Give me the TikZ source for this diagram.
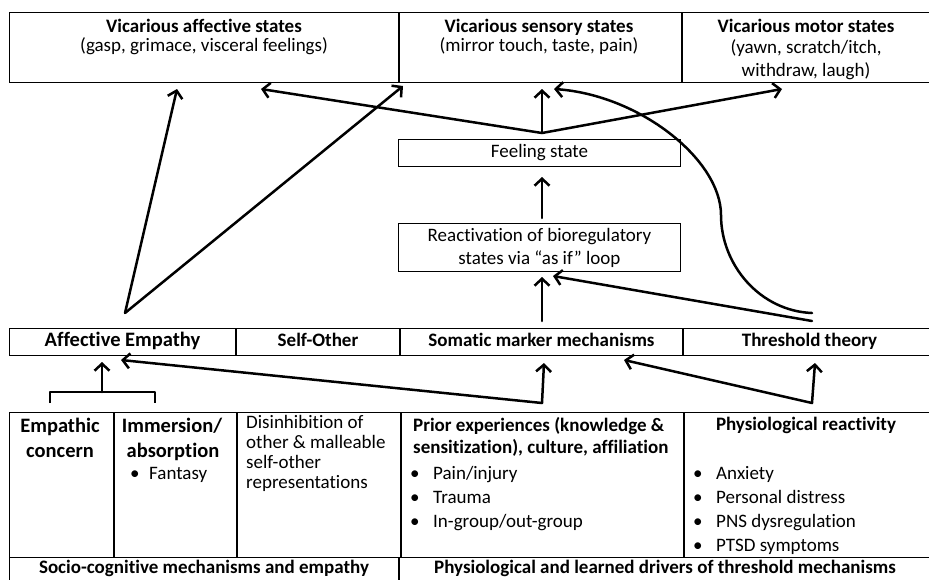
\documentclass[tikz,border=0pt]{standalone}
\usepackage{fontspec}
\setmainfont[Ligatures=NoCommon]{Carlito}
\usepackage{tikz}
\usetikzlibrary{arrows.meta, positioning}
\newcommand{\bulitem}[1][23pt]{\makebox[#1][l]{•}}
\tikzset{
  cell/.style={draw, line width=1pt, inner sep=0pt, anchor=north west},
  head/.style={font=\bfseries\fontsize{19}{22}\selectfont, inner sep=0pt, align=center},
  bighead/.style={font=\bfseries\fontsize{20.5}{22}\selectfont, inner sep=0pt, align=center},
  body/.style={font=\fontsize{19}{22}\selectfont, inner sep=0pt, align=center},
  oneline/.style={text height=13pt, text depth=4pt},
  flow/.style={->, line width=2.5pt, line cap=round},
  twoway/.style={<->, line width=2.5pt, line cap=round, line join=round},
  plain/.style={line width=2.5pt, line join=round},
}

\begin{document}
\begin{tikzpicture}[x=1pt, y=-1pt, >={Straight Barb[length=7pt,width=15pt]}]
\useasboundingbox (0,0) rectangle (929,579);

% vicarious states
\node[cell, minimum width=389pt, minimum height=70pt] (affbox) at (9,12) {};
\node[cell, minimum width=282pt, minimum height=70pt] (sensbox) at (affbox.north east) {};
\node[cell, minimum width=252pt, minimum height=70pt] (motbox) at (sensbox.north east) {};
\node[head, anchor=base] (affhead) at (204,32) {Vicarious affective states};
\node[body, anchor=base] (affsub) at (204,51) {(gasp, grimace, visceral feelings)};
\node[head, anchor=base] (senshead) at (539,32) {Vicarious sensory states};
\node[body, anchor=base] (senssub) at (539,51) {(mirror touch, taste, pain)};
\node[head, anchor=base] (mothead) at (806,32) {Vicarious motor states};
\node[body, anchor=base] (motsub) at (806,53) {(yawn, scratch/itch,};
\node[body, anchor=base] (motsub2) at (806,76) {withdraw, laugh)};

% feeling and as-if loop
\node[cell, body, oneline, minimum width=282pt, minimum height=27pt] (feel) at (398,139) {Feeling state};
\node[cell, body, minimum width=282pt, minimum height=48pt] (react) at (398,223) {Reactivation of bioregulatory\\[1pt]states via “as if” loop};

% mechanisms
\node[cell, bighead, oneline, minimum width=226pt, minimum height=27pt] (empathy) at (9,328) {Affective Empathy};
\node[cell, head, oneline, minimum width=163pt, minimum height=27pt] (selfother) at (empathy.north east) {Self-Other};
\node[cell, head, oneline, minimum width=282pt, minimum height=27pt] (somatic) at (selfother.north east) {Somatic marker mechanisms};
\node[cell, head, oneline, minimum width=252pt, minimum height=27pt] (threshold) at (somatic.north east) {Threshold theory};

% drivers table
\node[cell, minimum width=104pt, minimum height=145pt] (concernbox) at (9,412) {};
\node[cell, minimum width=122pt, minimum height=145pt] (immersbox) at (concernbox.north east) {};
\node[cell, minimum width=163pt, minimum height=145pt] (disinhbox) at (immersbox.north east) {};
\node[cell, minimum width=282pt, minimum height=145pt] (priorbox) at (disinhbox.north east) {};
\node[cell, minimum width=252pt, minimum height=145pt] (physbox) at (priorbox.north east) {};
\node[cell, minimum width=389pt, minimum height=28pt] (sociofoot) at (9,557) {};
\node[cell, minimum width=534pt, minimum height=28pt] (physfoot) at (sociofoot.north east) {};
\node[head, anchor=base] (sociotxt) at (204,573) {Socio-cognitive mechanisms and empathy};
\node[head, anchor=base] (phystxt) at (665,573) {Physiological and learned drivers of threshold mechanisms};

\node[bighead, anchor=base] (empathic) at (60,432) {Empathic};
\node[bighead, anchor=base] (concern) at (60,457) {concern};
\node[bighead, anchor=base] (immersion) at (172,432) {Immersion/};
\node[bighead, anchor=base] (absorption) at (173,457) {absorption};
\node[body, anchor=base west] (fantasy) at (130,479) {\bulitem[19pt]Fantasy};
\foreach \txt [count=\i] in {Disinhibition of, other \& malleable, self-other, representations}
  \node[body, anchor=base west] (disinh\i) at (246,408+20*\i) {\txt};
\node[head, anchor=base west] (prior1) at (413,431) {Prior experiences (knowledge \&};
\node[head, anchor=base west] (prior2) at (413,453) {sensitization), culture, affiliation};
\foreach \txt [count=\i] in {Pain/injury, Trauma, In-group/out-group}
  \node[body, anchor=base west] (priorit\i) at (410,455+24*\i) {\bulitem\txt};
\node[head, anchor=base] (physhead) at (806,430) {Physiological reactivity};
\foreach \txt [count=\i] in {Anxiety, Personal distress, PNS dysregulation, PTSD symptoms}
  \node[body, anchor=base west] (physit\i) at (693,455+24*\i) {\bulitem\txt};

% arrows
\coordinate (fork) at (125,313);
\coordinate (hub) at ([shift={(144,-6)}]feel.north west);
\coordinate (thrTop) at (812,313);
\coordinate (thrMid) at (812,321);
\coordinate (somLow) at (542,403);
\coordinate (thrLow) at (812,403);
\coordinate (brL) at (50,403);
\coordinate (brM) at (102,392);
\coordinate (brR) at (155,403);

\draw[flow] (fork) -- ([shift={(168,6)}]affbox.south west);
\draw[flow] (fork) -- ([shift={(4,3)}]sensbox.south west);
\draw[flow] (hub) -- ([shift={(-138,6)}]affbox.south east);
\draw[flow, shorten >=6pt] (hub) -- (hub |- sensbox.south);
\draw[flow] (hub) -- ([shift={(100,6)}]sensbox.south east);
\draw[flow, shorten <=5pt, shorten >=10pt] (react.north -| hub) -- (feel.south -| hub);
\draw[flow, shorten <=7pt, shorten >=5pt] (somatic.north -| hub) -- (react.south -| hub);
\draw[flow] (thrMid) -- ([shift={(155,4)}]react.south west);
\draw[flow] (thrTop) .. controls (760,311) and (721,265) .. (721,215)
  .. controls (721,160) and (640,95) .. ([shift={(155,6)}]sensbox.south west);
\draw[twoway] ([shift={(112,4)}]empathy.south west) -- (somLow) -- ([shift={(144,7)}]somatic.south west);
\draw[twoway] ([shift={(224,4)}]somatic.south west) -- (thrLow) -- ([shift={(132,7)}]threshold.south west);
\draw[plain] (brL) |- (brM) -| (brR);
\draw[flow, shorten >=6pt] (brM) -- (brM |- empathy.south);
\end{tikzpicture}
\end{document}
